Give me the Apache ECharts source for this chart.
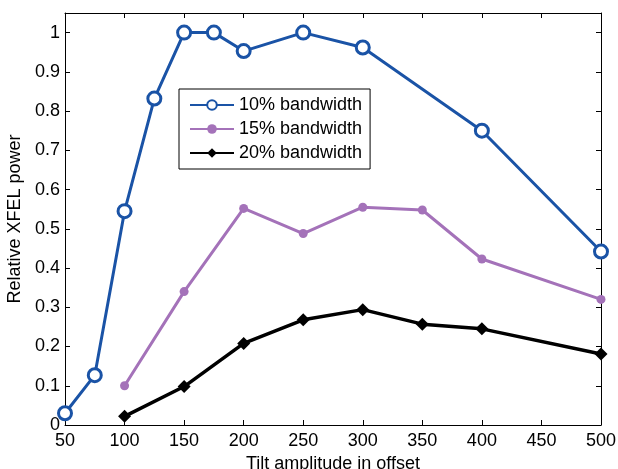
<!DOCTYPE html>
<html>
<head>
    <meta charset="utf-8"/>
    <script src="https://cdn.jsdelivr.net/npm/echarts@6/dist/echarts.min.js"></script>
    <style>
        body { margin: 0; background: #fff; }
        #main { width: 618px; height: 469px; }
    </style>
</head>
<body>
<div id="main"></div>
<script type="text/javascript">
    // data
    var x10 = [50, 75, 100, 125, 150, 175, 200, 250, 300, 400, 500];
    var y10 = [0.03, 0.127, 0.545, 0.832, 1.0, 1.0, 0.953, 1.0, 0.962, 0.75, 0.442];
    var x15 = [100, 150, 200, 250, 300, 350, 400, 500];
    var y15 = [0.10, 0.34, 0.552, 0.488, 0.555, 0.548, 0.423, 0.32];
    var x20 = [100, 150, 200, 250, 300, 350, 400, 500];
    var y20 = [0.022, 0.098, 0.208, 0.268, 0.294, 0.257, 0.245, 0.181];

    function pairs(xs, ys) {
        var out = [];
        for (var i = 0; i < xs.length; i++) out.push([xs[i], ys[i]]);
        return out;
    }

    var font = 'Liberation Sans, Arial, sans-serif';
    var axisLine = { onZero: false, lineStyle: { color: '#000', width: 1 } };
    var tickIn = { inside: true, length: 5, lineStyle: { color: '#000' } };

    var myChart = echarts.init(document.getElementById('main'));
    var option = {
        animation: false,
        backgroundColor: '#fff',
        grid: { left: 65, top: 13, right: 17, bottom: 44, containLabel: false, outerBoundsMode: 'none' },
        legend: {
            orient: 'vertical',
            left: 179, top: 89,
            borderColor: '#000', borderWidth: 1,
            padding: [7, 8, 7, 10],
            itemWidth: 44, itemHeight: 12, itemGap: 6,
            textStyle: { fontFamily: font, fontSize: 18, color: '#000' },
            data: ['10% bandwidth', '15% bandwidth', '20% bandwidth']
        },
        xAxis: [{
            type: 'value', min: 50, max: 500, interval: 50,
            name: 'Tilt amplitude in offset', nameLocation: 'middle', nameGap: 27,
            nameTextStyle: { fontFamily: font, fontSize: 18, color: '#000' },
            axisLine: axisLine, axisTick: tickIn,
            axisLabel: { fontFamily: font, fontSize: 18, color: '#000', margin: 7 },
            splitLine: { show: false }
        }, {
            type: 'value', position: 'top', min: 50, max: 500, interval: 50,
            axisLine: axisLine, axisTick: tickIn,
            axisLabel: { show: false }, splitLine: { show: false }
        }],
        yAxis: [{
            type: 'value', min: 0, max: 1.05, interval: 0.1,
            name: 'Relative XFEL power', nameLocation: 'middle', nameGap: 34,
            nameTextStyle: { fontFamily: font, fontSize: 18, color: '#000' },
            axisLine: axisLine, axisTick: tickIn,
            axisLabel: {
                fontFamily: font, fontSize: 18, color: '#000', margin: 5,
                formatter: function (v) {
                    if (v > 1.0001) return '';
                    return Math.round(v * 10) / 10 + '';
                }
            },
            splitLine: { show: false }
        }, {
            type: 'value', position: 'right', min: 0, max: 1.05, interval: 0.1,
            axisLine: axisLine, axisTick: tickIn,
            axisLabel: { show: false }, splitLine: { show: false }
        }],
        series: [{
            name: '10% bandwidth', type: 'line',
            data: pairs(x10, y10),
            symbol: 'circle', symbolSize: 13,
            lineStyle: { color: '#1a53a6', width: 3 },
            itemStyle: { color: '#fff', borderColor: '#1a53a6', borderWidth: 3 }
        }, {
            name: '15% bandwidth', type: 'line',
            data: pairs(x15, y15),
            symbol: 'circle', symbolSize: 9,
            lineStyle: { color: '#a472b9', width: 3 },
            itemStyle: { color: '#a472b9', borderWidth: 0 }
        }, {
            name: '20% bandwidth', type: 'line',
            data: pairs(x20, y20),
            symbol: 'diamond', symbolSize: 13,
            lineStyle: { color: '#000', width: 3.5 },
            itemStyle: { color: '#000', borderWidth: 0 }
        }]
    };
    myChart.setOption(option);
</script>
</body>
</html>
